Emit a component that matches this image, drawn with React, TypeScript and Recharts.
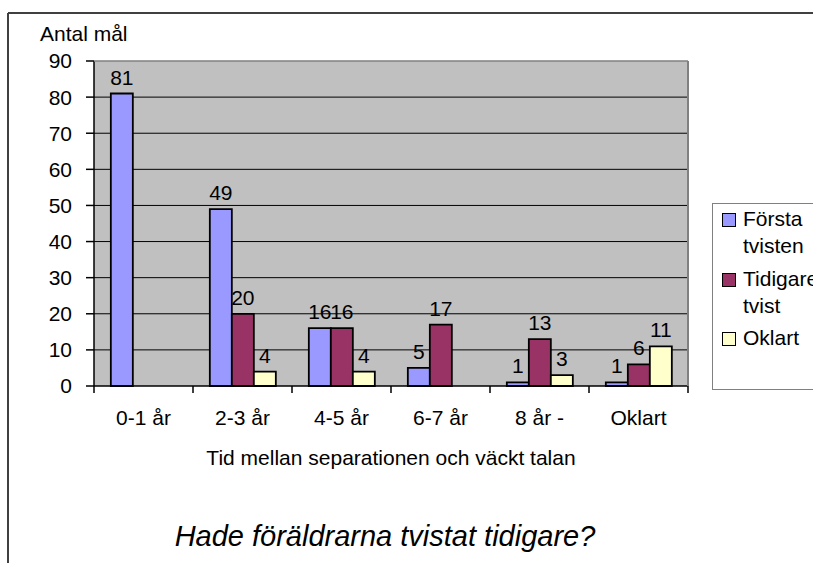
import { BarChart, Bar, XAxis, YAxis, CartesianGrid, LabelList, Legend } from "recharts";

const CATEGORIES = ["0-1 år", "2-3 år", "4-5 år", "6-7 år", "8 år -", "Oklart"];
const FORSTA = [81, 49, 16, 5, 1, 1];
const TIDIGARE = [null, 20, 16, 17, 13, 6];
const OKLART = [null, 4, 4, null, 3, 11];
const Y_TICKS = [0, 10, 20, 30, 40, 50, 60, 70, 80, 90];

const SERIES = [
  { key: "forsta", name: "Första tvisten", color: "#9999FF" },
  { key: "tidigare", name: "Tidigare tvist", color: "#993366" },
  { key: "oklart", name: "Oklart", color: "#FFFFCC" },
];

const data = CATEGORIES.map((c, i) => ({
  cat: c,
  forsta: FORSTA[i],
  tidigare: TIDIGARE[i],
  oklart: OKLART[i],
}));

const FONT = "'Liberation Sans', Arial, sans-serif";

function XTick(props: any) {
  const { x, y, payload, index } = props;
  const half = payload && payload.offset ? payload.offset : 49.5;
  return (
    <g>
      <line x1={x - half} y1={y} x2={x - half} y2={y + 7} stroke="#000" strokeWidth={1.5} />
      {index === CATEGORIES.length - 1 && (
        <line x1={x + half} y1={y} x2={x + half} y2={y + 7} stroke="#000" strokeWidth={1.5} />
      )}
      <text x={x} y={y + 39} textAnchor="middle" fontSize={21} fontFamily={FONT} fill="#000">
        {payload.value}
      </text>
    </g>
  );
}

function LegendBox() {
  return (
    <div
      style={{
        border: "1px solid #808080",
        background: "#fff",
        width: 140,
        height: 187,
        paddingTop: 1,
        boxSizing: "border-box",
        fontFamily: FONT,
        fontSize: 21,
        lineHeight: "27px",
        color: "#000",
      }}
    >
      {SERIES.map((s) => (
        <div key={s.key} style={{ display: "flex", alignItems: "flex-start", marginBottom: 5.5 }}>
          <span
            style={{
              display: "inline-block",
              width: 14,
              height: 14,
              marginLeft: 9,
              marginTop: 8,
              marginRight: 7,
              background: s.color,
              border: "1.5px solid #000",
              boxSizing: "border-box",
              flex: "none",
            }}
          />
          <span style={{ width: 84 }}>{s.name}</span>
        </div>
      ))}
    </div>
  );
}

export default function App() {
  return (
    <div
      style={{
        position: "absolute",
        left: 0,
        top: 0,
        width: 813,
        height: 563,
        overflow: "hidden",
        background: "#fff",
        fontFamily: FONT,
      }}
    >
      <BarChart
        width={813}
        height={563}
        data={data}
        margin={{ top: 61, right: 125, bottom: 0, left: 0 }}
        barCategoryGap="17%"
        barGap={0}
      >
        <CartesianGrid
          vertical={false}
          stroke="#000"
          fill="#C0C0C0"
          fillOpacity={1}
          horizontalValues={[10, 20, 30, 40, 50, 60, 70, 80]}
        />
        <XAxis
          dataKey="cat"
          height={177}
          axisLine={{ stroke: "#000", strokeWidth: 1.5 }}
          tickLine={false}
          tickSize={0}
          tickMargin={0}
          tick={<XTick />}
          interval={0}
        />
        <YAxis
          width={94}
          domain={[0, 90]}
          ticks={Y_TICKS}
          interval={0}
          axisLine={{ stroke: "#000", strokeWidth: 1.5 }}
          tickLine={{ stroke: "#000", strokeWidth: 1.5 }}
          tickSize={8}
          tickMargin={14}
          tick={{ fontSize: 21, fill: "#000", fontFamily: FONT }}
        />
        <Legend
          layout="vertical"
          align="center"
          verticalAlign="middle"
          wrapperStyle={{ left: 712, top: 203, width: 140, height: 187 }}
          content={() => <LegendBox />}
        />
        {SERIES.map((s) => (
          <Bar
            key={s.key}
            dataKey={s.key}
            name={s.name}
            fill={s.color}
            stroke="#000"
            strokeWidth={1.8}
            isAnimationActive={false}
          >
            <LabelList
              dataKey={s.key}
              position="top"
              offset={9}
              fontSize={21}
              fill="#000"
              fontFamily={FONT}
            />
          </Bar>
        ))}
      </BarChart>
      <svg
        width={813}
        height={563}
        style={{ position: "absolute", left: 0, top: 0, pointerEvents: "none" }}
      >
        <line x1={8} y1={13} x2={813} y2={13} stroke="#404040" strokeWidth={2} />
        <line x1={8} y1={13} x2={8} y2={563} stroke="#404040" strokeWidth={2} />
        <line x1={94} y1={61} x2={688} y2={61} stroke="#808080" strokeWidth={1.5} />
        <line x1={688} y1={61} x2={688} y2={386} stroke="#808080" strokeWidth={2} />
        <text x={40} y={41} fontSize={21} fontFamily={FONT} fill="#000">
          Antal mål
        </text>
        <text x={391} y={465} textAnchor="middle" fontSize={21} fontFamily={FONT} fill="#000">
          Tid mellan separationen och väckt talan
        </text>
        <text
          x={385}
          y={546}
          textAnchor="middle"
          fontSize={29}
          fontStyle="italic"
          fontFamily={FONT}
          fill="#000"
        >
          Hade föräldrarna tvistat tidigare?
        </text>
      </svg>
    </div>
  );
}
